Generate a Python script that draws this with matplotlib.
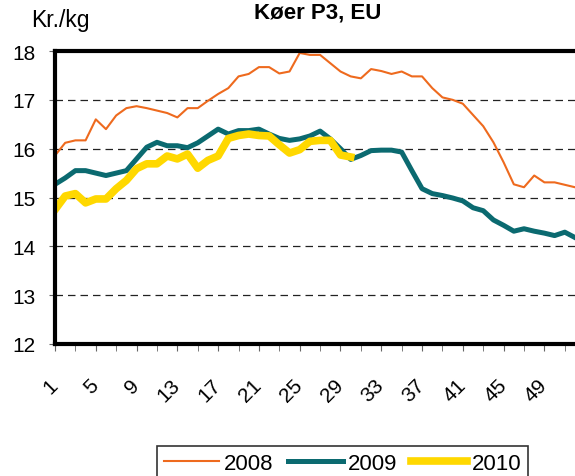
import matplotlib.pyplot as plt
import numpy as np

plt.rcParams['font.family'] = ['Liberation Sans', 'DejaVu Sans']

# Uger 1-52
uger = np.arange(1, 53)

# Priser kr./kg, aflaest fra figuren
p2008 = [15.86, 16.12, 16.17, 16.17, 16.60, 16.40, 16.68, 16.83, 16.87, 16.83,
         16.78, 16.73, 16.64, 16.83, 16.83, 16.98, 17.12, 17.24, 17.48, 17.53,
         17.67, 17.67, 17.54, 17.58, 17.96, 17.92, 17.92, 17.75, 17.58, 17.48,
         17.44, 17.63, 17.59, 17.53, 17.58, 17.48, 17.48, 17.24, 17.05, 17.00,
         16.92, 16.69, 16.46, 16.13, 15.72, 15.27, 15.21, 15.45, 15.31, 15.31,
         15.26, 15.21]
p2009 = [15.27, 15.40, 15.55, 15.55, 15.50, 15.45, 15.50, 15.55, 15.79, 16.03,
         16.13, 16.06, 16.06, 16.02, 16.12, 16.26, 16.40, 16.30, 16.37, 16.37,
         16.40, 16.30, 16.21, 16.17, 16.20, 16.26, 16.36, 16.20, 16.00, 15.78,
         15.86, 15.96, 15.97, 15.97, 15.93, 15.55, 15.18, 15.08, 15.04, 14.99,
         14.93, 14.79, 14.73, 14.54, 14.43, 14.31, 14.36, 14.31, 14.27, 14.22,
         14.29, 14.18]
p2010 = [14.75, 15.03, 15.08, 14.89, 14.97, 14.97, 15.18, 15.35, 15.59, 15.69,
         15.69, 15.85, 15.79, 15.89, 15.60, 15.76, 15.85, 16.21, 16.27, 16.30,
         16.27, 16.26, 16.08, 15.91, 15.98, 16.15, 16.17, 16.17, 15.87, 15.83]

fig = plt.figure(figsize=(5.75, 4.77), dpi=100)
ax = fig.add_axes([55/575, 1 - 345/477, 1 - 55/575, (345 - 52)/477])

ax.plot(uger, p2008, color="#EE6A1E", lw=1.5, label="2008")
ax.plot(uger, p2009, color="#0B6A70", lw=3.6, label="2009")
ax.plot(uger[:len(p2010)], p2010, color="#FFD800", lw=5.5, label="2010")

ax.set_xlim(1, 52)
ax.set_ylim(12, 18)
ax.set_yticks(range(12, 19))
ax.set_xticks(range(1, 53, 4))
ax.set_xticks(range(3, 53, 4), minor=True)
ax.set_xticklabels([str(u) for u in range(1, 53, 4)], rotation=45,
                   ha="right", va="center", rotation_mode="anchor")

for y in range(13, 18):
    ax.axhline(y, color="#222222", lw=0.9, ls=(0, (6, 4)), zorder=0)

for s in ["left", "bottom", "top"]:
    ax.spines[s].set_linewidth(3)
    ax.spines[s].set_color("black")
ax.spines["right"].set_visible(False)

ax.tick_params(axis="y", labelsize=15, length=4, color="#666666", pad=10)
ax.tick_params(axis="x", which="both", length=5, color="#666666")
ax.tick_params(axis="x", labelsize=15, pad=22)

fig.text(318/575, 1 - 13/477, "Køer P3, EU", ha="center", va="center",
         fontsize=16, fontweight="bold")
fig.text(60/575, 1 - 20/477, "Kr./kg", ha="center", va="center", fontsize=16.5)

leg = fig.legend(loc="upper left", bbox_to_anchor=(157/575, 1 - 447/477),
                 ncol=3, fontsize=16, frameon=True, fancybox=False,
                 handlelength=2.5, columnspacing=0.65, handletextpad=0.2,
                 borderpad=0.3, borderaxespad=0)
leg.get_frame().set_edgecolor("black")
leg.get_frame().set_linewidth(1.2)

fig.savefig("out.png", dpi=100)
